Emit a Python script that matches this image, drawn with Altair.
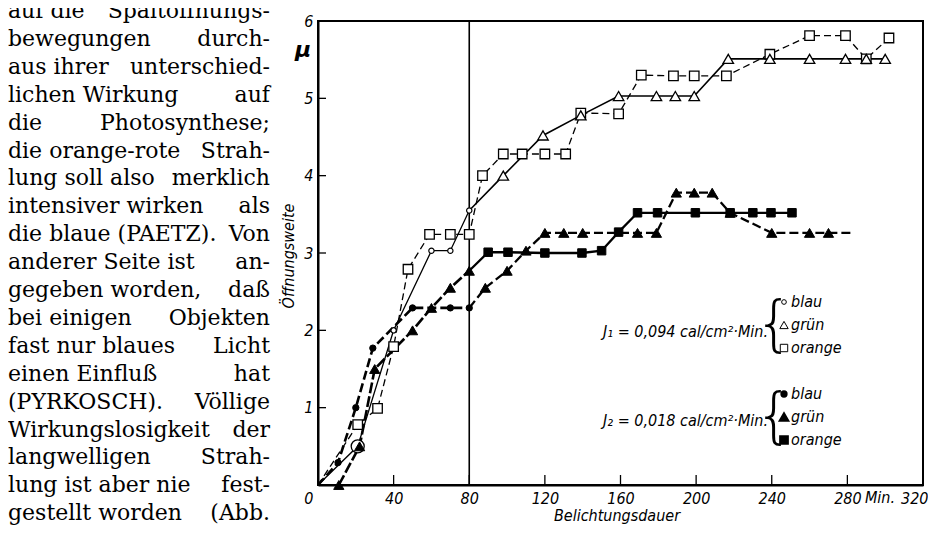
import altair as alt
import pandas as pd

# ---------------- data ----------------
X_TICKS = [0, 40, 80, 120, 160, 200, 240, 280, 320]
Y_TICKS = [1, 2, 3, 4, 5, 6]
VLINE_X = [80]

# J1 = 0,094 cal/cm2.Min
J1_BLAU_X = [0, 21, 40, 60, 70, 80]
J1_BLAU_Y = [0, 0.5, 2.0, 3.03, 3.03, 3.55]
J1_BLAU_M = [None, "big_o", "o", "o", "o", "o"]

J1_GRUEN_X = [80, 98, 119, 139, 159, 179, 189, 199, 217, 239, 260, 279, 290, 300]
J1_GRUEN_Y = [3.55, 4.0, 4.52, 4.78, 5.03, 5.03, 5.03, 5.03, 5.51, 5.51, 5.51, 5.51, 5.51, 5.51]
J1_GRUEN_M = [None, "t", "t", "t", "t", "t", "t", "t", "t", "t", "t", "t", "t", "t"]

J1_ORANGE_X = [0, 21, 31.5, 40, 47.6, 59, 70, 80, 87, 98, 108, 120, 131, 139, 159, 171,
               188, 199, 216, 239, 260, 279, 290, 302]
J1_ORANGE_Y = [0, 0.78, 0.99, 1.79, 2.79, 3.24, 3.24, 3.24, 4.0, 4.28, 4.28, 4.28, 4.28, 4.81,
               4.80, 5.30, 5.29, 5.29, 5.29, 5.57, 5.81, 5.81, 5.51, 5.78]
J1_ORANGE_M = [None] + ["s"] * 23

# J2 = 0,018 cal/cm2.Min
J2_BLAU_X = [0, 10.6, 20, 29, 50, 70, 80]
J2_BLAU_Y = [0, 0.29, 1.0, 1.77, 2.29, 2.29, 2.29]
J2_BLAU_M = [None, "O", "O", "O", "O", "O", "O"]

J2_BLAU2_X = [80, 88.5, 100, 110, 120, 130, 140, 160, 169, 179, 189.5, 199, 208.5, 218,
              240, 260, 270, 282]
J2_BLAU2_Y = [2.29, 2.55, 2.77, 3.03, 3.26, 3.26, 3.26, 3.26, 3.26, 3.26, 3.78, 3.78, 3.78,
              3.52, 3.26, 3.26, 3.26, 3.26]
J2_BLAU2_M = [None, "T", "T", "T", "T", "T", "T", None, "T", "T", "T", "T", "T", "T",
              "T", "T", "T", None]

J2_GRUEN_X = [11, 22, 30, 50, 60, 70, 80]
J2_GRUEN_Y = [0, 0.5, 1.5, 2.0, 2.29, 2.55, 2.77]
J2_GRUEN_M = ["T", "T", "T", "T", "T", "T", "T"]

J2_ORANGE_X = [80, 90, 100.5, 120, 139.6, 150, 159, 169, 179.6, 199.6, 218, 230, 239.6, 250.7]
J2_ORANGE_Y = [2.77, 3.01, 3.01, 3.0, 3.0, 3.03, 3.27, 3.52, 3.52, 3.52, 3.52, 3.52, 3.52, 3.52]
J2_ORANGE_M = [None] + ["S"] * 13

LEGEND_J1 = "J₁ = 0,094 cal/cm²·Min."
LEGEND_J2 = "J₂ = 0,018 cal/cm²·Min."
LEGEND_ITEMS = ["blau", "grün", "orange"]

X_TITLE = "Belichtungsdauer"
Y_TITLE = "Öffnungsweite"
Y_UNIT = "μ"
X_UNIT = "Min."

BOOK_LINES = [
    ("auf die", "Spaltöffnungs-"),
    ("bewegungen", "durch-"),
    ("aus ihrer", "unterschied-"),
    ("lichen  Wirkung", "auf"),
    ("die", "Photosynthese;"),
    ("die orange-rote", "Strah-"),
    ("lung soll also", "merklich"),
    ("intensiver  wirken", "als"),
    ("die blaue (PAETZ).", "Von"),
    ("anderer  Seite  ist", "an-"),
    ("gegeben  worden,", "daß"),
    ("bei  einigen", "Objekten"),
    ("fast nur  blaues", "Licht"),
    ("einen    Einfluß", "hat"),
    ("(PYRKOSCH).", "Völlige"),
    ("Wirkungslosigkeit", "der"),
    ("langwelligen", "Strah-"),
    ("lung ist aber nie", "fest-"),
    ("gestellt  worden", "(Abb."),
]

# ---------------- layout ----------------
W, H = 605, 464
PAD_L, PAD_T = 310, 13
ORIGIN_X, ORIGIN_Y = 8 + PAD_L, 8 + PAD_T  # page coords of plot top-left

SANS = "Liberation Sans Narrow, DejaVu Sans Condensed, DejaVu Sans, sans-serif"
SERIF = "DejaVu Serif"


def px(page_x):
    return page_x - ORIGIN_X


def py(page_y):
    return page_y - ORIGIN_Y


xscale = alt.Scale(domain=[0, 320], nice=False, zero=False)
yscale = alt.Scale(domain=[0, 6], nice=False, zero=False)

xaxis = alt.Axis(values=X_TICKS, title=None, grid=False, ticks=False, domainColor="black",
                 domainWidth=2, labelFont=SANS, labelFontSize=16, labelFontStyle="italic",
                 labelColor="black", labelPadding=5, labelFlush=True, labelFlushOffset=5,
                 labelAlign={"condition": {"test": "datum.value == 0 || datum.value == 320",
                                           "value": "right"},
                             "value": "center"})
yaxis = alt.Axis(values=Y_TICKS, title=None, grid=False, ticks=False, domainColor="black",
                 domainWidth=2, labelFont=SANS, labelFontSize=16, labelFontStyle="italic",
                 labelColor="black", labelPadding=5, labelFlush=False)


def X(field="x"):
    return alt.X(f"{field}:Q", scale=xscale, axis=xaxis)


def Y(field="y"):
    return alt.Y(f"{field}:Q", scale=yscale, axis=yaxis)


SERIES = [
    ("J1_blau", J1_BLAU_X, J1_BLAU_Y, J1_BLAU_M, dict(strokeWidth=1.3)),
    ("J1_gruen", J1_GRUEN_X, J1_GRUEN_Y, J1_GRUEN_M, dict(strokeWidth=1.6)),
    ("J1_orange", J1_ORANGE_X, J1_ORANGE_Y, J1_ORANGE_M, dict(strokeWidth=1.3, strokeDash=[7, 4])),
    ("J2_blau", J2_BLAU_X, J2_BLAU_Y, J2_BLAU_M, dict(strokeWidth=2.6, strokeDash=[9, 4])),
    ("J2_blau2", J2_BLAU2_X, J2_BLAU2_Y, J2_BLAU2_M, dict(strokeWidth=2.3, strokeDash=[9, 4])),
    ("J2_gruen", J2_GRUEN_X, J2_GRUEN_Y, J2_GRUEN_M, dict(strokeWidth=2.6, strokeDash=[11, 3])),
    ("J2_orange", J2_ORANGE_X, J2_ORANGE_Y, J2_ORANGE_M, dict(strokeWidth=2.3)),
]

layers = []

# vertical line at 80 min
layers.append(
    alt.Chart(pd.DataFrame({"x": VLINE_X})).mark_rule(color="black", strokeWidth=1.6)
    .encode(x=X(), y=alt.value(0), y2=alt.value(H))
)

# inward ticks
layers.append(
    alt.Chart(pd.DataFrame({"x": [v for v in X_TICKS if 0 < v < 320]}))
    .mark_rule(color="black", strokeWidth=1.3)
    .encode(x=X(), y=alt.value(H), y2=alt.value(H - 10))
)
layers.append(
    alt.Chart(pd.DataFrame({"y": [v for v in Y_TICKS if v < 6]}))
    .mark_rule(color="black", strokeWidth=1.3)
    .encode(y=Y(), x=alt.value(0), x2=alt.value(8))
)

# lines
pts_rows = []
for name, xs, ys, ms, st in SERIES:
    df = pd.DataFrame({"x": xs, "y": ys, "o": list(range(len(xs)))})
    layers.append(
        alt.Chart(df).mark_line(color="black", **st).encode(x=X(), y=Y(), order="o:Q")
    )
    for xv, yv, mv in zip(xs, ys, ms):
        if mv is not None:
            pts_rows.append({"x": xv, "y": yv, "m": mv})

pts = pd.DataFrame(pts_rows)

MARK_STYLE = [
    ("big_o", dict(shape="circle", size=170, filled=True, fill="white", stroke="black", strokeWidth=1.3)),
    ("o", dict(shape="circle", size=28, filled=True, fill="white", stroke="black", strokeWidth=1.2)),
    ("s", dict(shape="square", size=90, filled=True, fill="white", stroke="black", strokeWidth=1.3)),
    ("t", dict(shape="triangle-up", size=110, filled=True, fill="white", stroke="black", strokeWidth=1.3)),
    ("S", dict(shape="square", size=72, filled=True, fill="black", stroke="black", strokeWidth=1)),
    ("O", dict(shape="circle", size=40, filled=True, fill="black", stroke="black", strokeWidth=1)),
    ("T", dict(shape="triangle-up", size=105, filled=True, fill="black", stroke="black", strokeWidth=1)),
]
for code, st in MARK_STYLE:
    layers.append(
        alt.Chart(pts).transform_filter(alt.datum.m == code)
        .mark_point(opacity=1, **st).encode(x=X(), y=Y())
    )


def text_layer(txt, x, y, **kw):
    return alt.Chart(pd.DataFrame({"t": [txt]})).mark_text(**kw).encode(
        x=alt.value(x), y=alt.value(y), text="t:N")


# axis titles & units
layers.append(text_layer(Y_TITLE, px(289), py(256), angle=270, font=SANS, fontSize=16,
                         fontStyle="italic", align="center", baseline="middle", color="black"))
layers.append(text_layer(X_TITLE, px(617), py(516), font=SANS, fontSize=16,
                         fontStyle="italic", align="center", baseline="middle", color="black"))
layers.append(text_layer(Y_UNIT, px(303), py(50), font="DejaVu Sans", fontSize=22,
                         fontStyle="italic", fontWeight="bold", align="center",
                         baseline="middle", color="black"))
layers.append(text_layer(X_UNIT, px(880), py(498), font=SANS, fontSize=16,
                         fontStyle="italic", align="center", baseline="middle", color="black"))

# legend blocks
LEG = [
    (LEGEND_J1, 332, [302, 325, 348], ["o", "t", "s"]),
    (LEGEND_J2, 421, [394, 417, 440], ["O", "T", "S"]),
]
LEG_MARK = {
    "o": dict(shape="circle", size=22, filled=False, stroke="black", strokeWidth=1),
    "t": dict(shape="triangle-up", size=70, filled=False, stroke="black", strokeWidth=1),
    "s": dict(shape="square", size=55, filled=False, stroke="black", strokeWidth=1),
    "O": dict(shape="circle", size=28, filled=True, fill="black", stroke="black"),
    "T": dict(shape="triangle-up", size=75, filled=True, fill="black", stroke="black"),
    "S": dict(shape="square", size=60, filled=True, fill="black", stroke="black"),
}
for label, ly, rows, codes in LEG:
    layers.append(text_layer(label, px(768), py(ly), font=SANS, fontSize=16,
                             fontStyle="italic", align="right", baseline="middle", color="black"))
    layers.append(text_layer("{", px(774), py((rows[0] + rows[-1]) / 2 + 1),
                             font="DejaVu Sans ExtraLight, DejaVu Sans", fontWeight=200,
                             fontSize=60, align="center", baseline="middle", color="black"))
    for ry, code, item in zip(rows, codes, LEGEND_ITEMS):
        layers.append(
            alt.Chart(pd.DataFrame({"t": [item]})).mark_point(opacity=1, **LEG_MARK[code])
            .encode(x=alt.value(px(784)), y=alt.value(py(ry)))
        )
        layers.append(text_layer(item, px(791), py(ry), font=SANS, fontSize=16,
                                 fontStyle="italic", align="left", baseline="middle",
                                 color="black"))

# book text on the left
for i, (left, right) in enumerate(BOOK_LINES):
    yy = py(11 + 27.9 * i)
    layers.append(text_layer(left, px(8), yy, font=SERIF, fontSize=22, align="left",
                             baseline="middle", color="black"))
    layers.append(text_layer(right, px(270), yy, font=SERIF, fontSize=22, align="right",
                             baseline="middle", color="black"))

chart = alt.layer(*layers).properties(
    width=W, height=H,
    autosize=alt.AutoSizeParams(type="none"),
    padding={"left": PAD_L, "top": PAD_T, "right": 5, "bottom": 40},
    background="white",
).configure_view(stroke="black", strokeWidth=2)

chart.save("out.html", embed_options={"renderer": "svg", "actions": False})
